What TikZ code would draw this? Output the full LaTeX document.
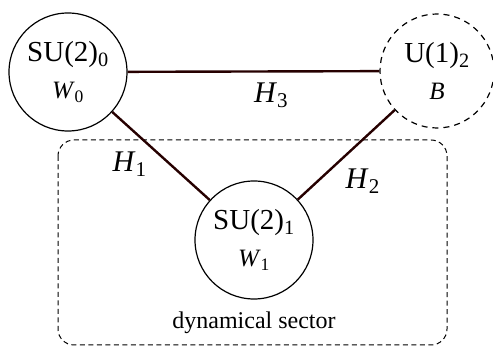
\documentclass[tikz,border=0pt]{standalone}
\usepackage{fontspec}
\setmainfont{Liberation Serif}
\usetikzlibrary{positioning}

\begin{document}
\begin{tikzpicture}[
    x=1pt, y=1pt,
    group node/.style={circle, draw, line width=1.2pt, minimum size=118pt, inner sep=0pt, align=center},
    gauge line/.style={line width=2.4pt, draw=black!85!red},
    link note/.style={font=\fontsize{30}{30}\selectfont, inner sep=2pt}
]
  \useasboundingbox (0,0) rectangle (493,347);

  % dynamical sector
  \draw[dashed, dash pattern=on 5pt off 3.5pt, line width=1pt, rounded corners=16pt] (58,207) rectangle (447,2);
  \node[font=\fontsize{24}{24}\selectfont] (sector) at (254,24) {dynamical sector};

  \node[group node] (w0) at (68,275) {\fontsize{29}{29}\selectfont SU(2)\textsubscript{0}\\[13pt]\fontsize{25}{25}\selectfont\textit{W}\textsubscript{0}};
  \node[group node, dashed, dash pattern=on 6pt off 5pt, minimum size=114pt] (b) at (437,276) {\fontsize{29}{29}\selectfont U(1)\textsubscript{2}\\[13pt]\fontsize{25}{25}\selectfont\textit{B}};
  \node[group node] (w1) at (254,107) {\fontsize{29}{29}\selectfont SU(2)\textsubscript{1}\\[13pt]\fontsize{25}{25}\selectfont\textit{W}\textsubscript{1}};

  \draw[gauge line] (w0) -- node[link note, pos=0.57, below=8pt] {\textit{H}\textsubscript{3}} (b);
  \draw[gauge line] (w0) -- node[link note, pos=0.4, below left=2pt] {\textit{H}\textsubscript{1}} (w1);
  \draw[gauge line] (b) -- node[link note, pos=0.6, below right=2pt and 6pt] {\textit{H}\textsubscript{2}} (w1);
\end{tikzpicture}
\end{document}
